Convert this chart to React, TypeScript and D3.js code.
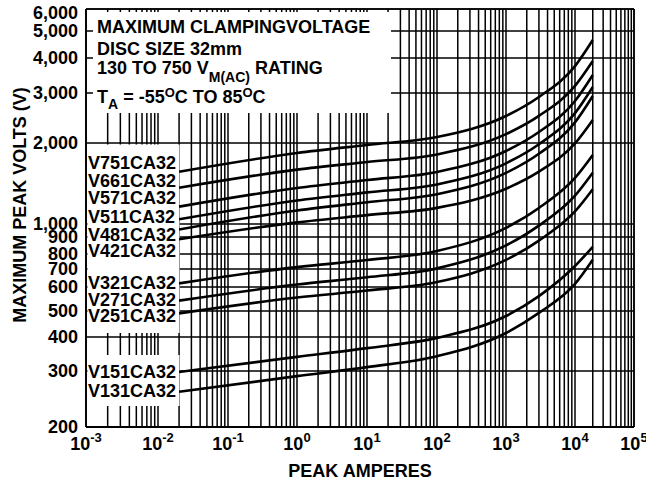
import React from 'react';
import * as d3 from 'd3';

// peak current (A) sample points, shared by every curve
const currents = [0.02, 1, 10, 100, 1000, 3000, 10000, 20000];

const models = ['V751CA32', 'V661CA32', 'V571CA32', 'V511CA32', 'V481CA32', 'V421CA32',
  'V321CA32', 'V271CA32', 'V251CA32', 'V151CA32', 'V131CA32'];

// max clamping volts for each model
const v751 = [1565, 1836, 1967, 2099, 2489, 2904, 3743, 4640];
const v661 = [1364, 1592, 1700, 1814, 2149, 2491, 3179, 3900];
const v571 = [1160, 1361, 1457, 1561, 1868, 2186, 2812, 3480];
const v511 = [1041, 1223, 1311, 1403, 1681, 1979, 2548, 3151];
const v481 = [957, 1123, 1205, 1291, 1549, 1825, 2365, 2929];
const v421 = [886, 1014, 1079, 1148, 1352, 1565, 1992, 2410];
const v321 = [619, 712, 758, 817, 969, 1147, 1483, 1805];
const v271 = [541, 613, 652, 704, 849, 987, 1275, 1551];
const v251 = [490, 554, 584, 626, 759, 878, 1113, 1346];
const v151 = [298, 338, 364, 397, 479, 560, 719, 841];
const v131 = [258, 289, 310, 340, 414, 492, 616, 760];

const series = [v751, v661, v571, v511, v481, v421, v321, v271, v251, v151, v131];

const xDecades = [1e-3, 1e-2, 1e-1, 1, 10, 100, 1e3, 1e4, 1e5];
const yTicks = [200, 300, 400, 500, 600, 700, 800, 900, 1000, 2000, 3000, 4000, 5000, 6000];

// layout
const W = 646, H = 482;
const left = 86, right = 634, top = 9, bottom = 427;
// the datasheet grid is not perfectly even, so the scales are piecewise
const x = d3.scaleLog().domain(xDecades).range([86, 158, 228, 297, 367, 437, 506, 575, 634]);
const y = d3.scaleLog().domain(yTicks).range([427, 371, 337, 311, 287, 269, 254, 237, 224, 143, 93, 58, 31, 9]);
const labelCenters = [163, 180.5, 198, 216.5, 234.5, 251, 283, 300, 316, 372, 391];

const font = '"Liberation Sans", Arial, Helvetica, sans-serif';

export default function App() {
  const gridX: number[] = [];
  xDecades.slice(0, -1).forEach(d => {
    for (let k = 1; k <= 9; k++) gridX.push(k * d);
  });
  gridX.push(1e5);

  const line = d3.line<number>()
    .x((_, i) => x(currents[i]))
    .y(v => y(v))
    .curve(d3.curveMonotoneX);

  const fmt = d3.format(',');

  return (
    <svg width={W} height={H} style={{ position: 'absolute', left: 0, top: 0, background: '#fff' }}
      fontFamily={font} fontWeight="bold">
      <rect width={W} height={H} fill="#fff" />
      {/* grid */}
      {gridX.map((g, i) => (
        <line key={'gx' + i} x1={x(g)} x2={x(g)} y1={top} y2={bottom} stroke="#000" strokeWidth={1.5} />
      ))}
      {yTicks.map((t, i) => (
        <line key={'gy' + i} x1={left} x2={right} y1={y(t)} y2={y(t)} stroke="#000" strokeWidth={1.5} />
      ))}
      {/* white boxes behind the text */}
      <rect x={93} y={12} width={298} height={101} fill="#fff" />
      <rect x={87.5} y={144.5} width={92} height={188.5} fill="#fff" />
      <rect x={87.5} y={355} width={92} height={51} fill="#fff" />
      {/* frame */}
      <line x1={left} x2={left} y1={top} y2={bottom} stroke="#000" strokeWidth={1.8} />
      <line x1={left} x2={right} y1={bottom} y2={bottom} stroke="#000" strokeWidth={1.8} />
      <line x1={left} x2={right} y1={top} y2={top} stroke="#000" strokeWidth={1.5} />
      <line x1={right} x2={right} y1={top} y2={bottom} stroke="#000" strokeWidth={1.5} />

      {/* curves */}
      {series.map((s, i) => (
        <path key={'c' + i} d={line(s) || ''} fill="none" stroke="#000" strokeWidth={2.6} />
      ))}

      {/* curve labels */}
      {models.map((m, i) => (
        <text key={'l' + i} x={88} y={labelCenters[i] + 6.4} fontSize={18}>{m}</text>
      ))}

      {/* y tick labels */}
      {yTicks.map((t, i) => (
        <text key={'yt' + i} x={78} y={Math.max(y(t), 13) + 6} fontSize={18} textAnchor="end">{fmt(t)}</text>
      ))}

      {/* x tick labels */}
      {xDecades.map((d, i) => (
        <text key={'xt' + i} x={x(d)} y={450} fontSize={18} textAnchor="middle">
          10<tspan fontSize={13} dy={-8.5}>{Math.round(Math.log10(d))}</tspan>
        </text>
      ))}

      {/* axis titles */}
      <text x={360} y={477} fontSize={18} textAnchor="middle">PEAK AMPERES</text>
      <text transform="translate(26,205) rotate(-90)" fontSize={18} textAnchor="middle">MAXIMUM PEAK VOLTS (V)</text>

      {/* title block */}
      <text x={97} y={33} fontSize={18}>MAXIMUM CLAMPINGVOLTAGE</text>
      <text x={97} y={55} fontSize={18}>DISC SIZE 32mm</text>
      <text x={97} y={74} fontSize={18}>
        130 TO 750 V<tspan fontSize={14} dy={7.5}>M(AC)</tspan><tspan dy={-7.5}> RATING</tspan>
      </text>
      <text x={97} y={103} fontSize={18}>
        T<tspan fontSize={14} dy={6}>A</tspan><tspan dy={-6}> = -55</tspan>
        <tspan fontSize={13} dy={-6.5}>O</tspan><tspan dy={6.5}>C TO 85</tspan>
        <tspan fontSize={13} dy={-6.5}>O</tspan><tspan dy={6.5}>C</tspan>
      </text>
    </svg>
  );
}
